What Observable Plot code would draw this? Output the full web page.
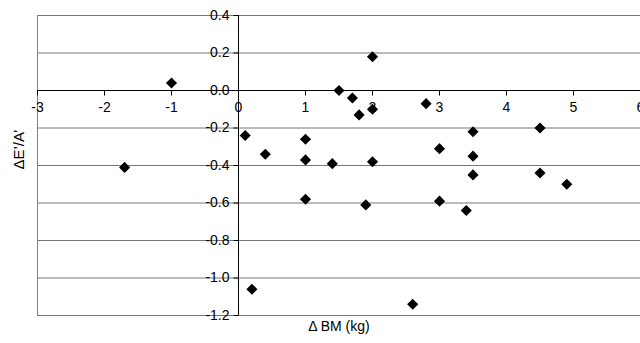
<!DOCTYPE html>
<html>
<head>
<meta charset="utf-8">
<script src="https://cdn.jsdelivr.net/npm/d3@7"></script>
<script src="https://cdn.jsdelivr.net/npm/@observablehq/plot@0.6"></script>
<style>
  html, body { margin: 0; padding: 0; background: #fff; }
  #chart svg { display: block; }
</style>
</head>
<body>
<div id="chart"></div>
<script>
// Data
const bmChange = [-1.7, -1.0, 0.1, 0.2, 0.4, 1.0, 1.0, 1.0, 1.4, 1.5, 1.7, 1.8, 1.9, 2.0, 2.0, 2.0, 2.6, 2.8, 3.0, 3.0, 3.4, 3.5, 3.5, 3.5, 4.5, 4.5, 4.9];
const eaChange = [-0.41, 0.04, -0.24, -1.06, -0.34, -0.26, -0.37, -0.58, -0.39, 0.0, -0.04, -0.13, -0.61, 0.18, -0.10, -0.38, -1.14, -0.07, -0.31, -0.59, -0.64, -0.22, -0.35, -0.45, -0.20, -0.44, -0.50];
const xTicks = [-3, -2, -1, 0, 1, 2, 3, 4, 5, 6];
const yTicks = [0.4, 0.2, 0.0, -0.2, -0.4, -0.6, -0.8, -1.0, -1.2];
const xLabel = "\u0394 BM (kg)";
const yLabel = "\u0394E\u2019/A\u2019";

const points = bmChange.map((x, i) => ({x, y: eaChange[i]}));

const tickDown = {draw(ctx) { ctx.moveTo(0, 0); ctx.lineTo(0, 5); }};
const tickLeft = {draw(ctx) { ctx.moveTo(0, 0); ctx.lineTo(-5, 0); }};

const font = "'Liberation Sans', Arial, sans-serif";

const chart = Plot.plot({
  width: 640,
  height: 343,
  marginLeft: 37,
  marginRight: 0,
  marginTop: 15,
  marginBottom: 28,
  style: {fontFamily: font, fontSize: "14px", background: "#fff", color: "#000"},
  x: {domain: [-3, 6], axis: null},
  y: {domain: [-1.2, 0.4], axis: null},
  marks: [
    Plot.gridY(yTicks, {stroke: "#777", strokeOpacity: 1}),
    Plot.ruleX([-3], {stroke: "#808080"}),
    Plot.ruleY([0], {stroke: "#000"}),
    Plot.ruleX([0], {stroke: "#000"}),
    Plot.dot(xTicks, {x: d => d, y: 0, symbol: tickDown, stroke: "#000", strokeWidth: 1}),
    Plot.dot(yTicks, {x: 0, y: d => d, symbol: tickLeft, stroke: "#000", strokeWidth: 1}),
    Plot.text(xTicks, {x: d => d, y: 0, dy: 17, text: d => String(d), fontSize: 14, fill: "#000"}),
    Plot.text(yTicks, {x: 0, y: d => d, dx: -9, textAnchor: "end", text: d => d.toFixed(1), fontSize: 14, fill: "#000"}),
    Plot.dot(points, {x: "x", y: "y", symbol: "diamond2", r: 5, fill: "#000", stroke: "none"}),
    Plot.text([xLabel], {frameAnchor: "bottom", dy: 15, text: d => d, fontSize: 14, fill: "#000"}),
    Plot.text([yLabel], {frameAnchor: "left", dx: -18, dy: 4, rotate: -90, text: d => d, fontSize: 15, letterSpacing: "0.6px", fill: "#000"})
  ]
});
document.getElementById("chart").appendChild(chart);
</script>
</body>
</html>
